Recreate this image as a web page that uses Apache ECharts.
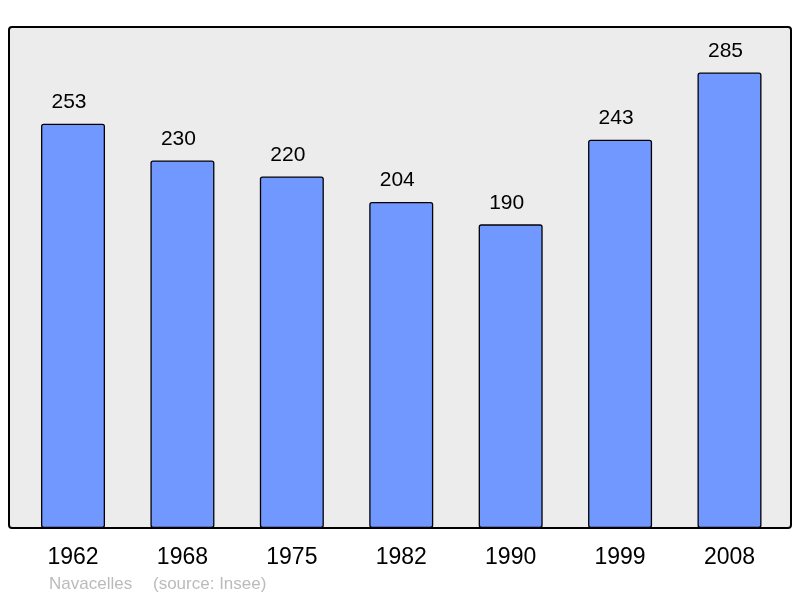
<!DOCTYPE html>
<html>
<head>
<meta charset="utf-8">
<script src="https://cdn.jsdelivr.net/npm/echarts@6/dist/echarts.min.js"></script>
<style>html,body{margin:0;padding:0;background:#fff}#c{width:800px;height:598px}</style>
</head>
<body>
<div id="c"></div>
<script>
var years = ['1962', '1968', '1975', '1982', '1990', '1999', '2008'];
var population = [253, 230, 220, 204, 190, 243, 285];
var footerName = 'Navacelles';
var footerSource = '(source: Insee)';

var chart = echarts.init(document.getElementById('c'), null, {renderer: 'canvas'});
chart.setOption({
  animation: false,
  backgroundColor: '#ffffff',
  textStyle: {fontFamily: 'Liberation Sans, Arial, sans-serif'},
  graphic: [
    {type: 'rect', z: -10, shape: {x: 9, y: 27, width: 782, height: 501, r: 3},
     style: {fill: '#ececec', stroke: '#000', lineWidth: 2}},
    {type: 'text', left: 49, top: 576, style: {text: footerName, fill: '#bbbbbb', font: '17px Liberation Sans, Arial, sans-serif'}},
    {type: 'text', left: 153, top: 576, style: {text: footerSource, fill: '#bbbbbb', font: '17px Liberation Sans, Arial, sans-serif'}}
  ],
  grid: {left: 18.3, right: 15.8, top: 27, bottom: 70, containLabel: false},
  xAxis: {
    type: 'category', data: years,
    axisLine: {show: false}, axisTick: {show: false},
    axisLabel: {color: '#000', fontSize: 23, margin: 18, fontFamily: 'Liberation Sans, Arial, sans-serif'}
  },
  yAxis: {
    type: 'value', min: 0, max: 313.5,
    show: false, splitLine: {show: false}
  },
  series: [{
    type: 'bar', data: population, barWidth: 64,
    itemStyle: {color: '#7098ff', borderColor: '#000', borderWidth: 1.3, borderRadius: 2},
    label: {show: true, position: 'top', distance: 11, offset: [-4, 0], color: '#000', fontSize: 21,
            fontFamily: 'Liberation Sans, Arial, sans-serif'}
  }]
});
</script>
</body>
</html>
